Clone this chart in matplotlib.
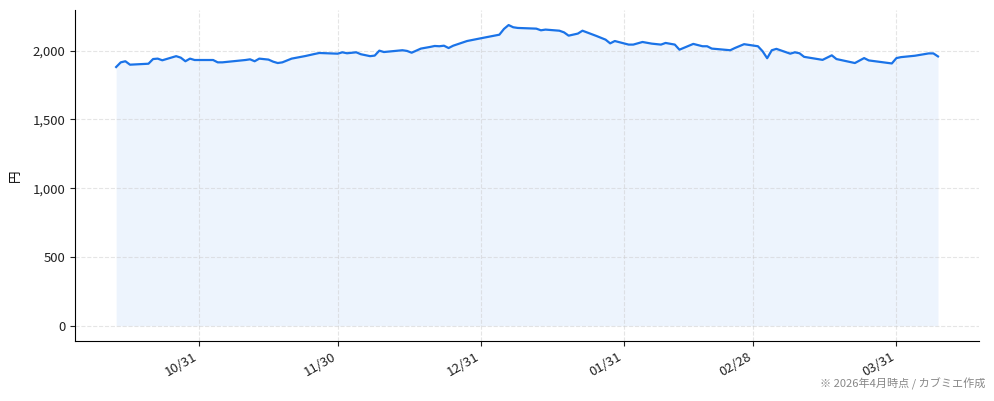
import pandas as pd
import matplotlib
matplotlib.use("Agg")
import matplotlib.pyplot as plt
import matplotlib.dates as mdates
from matplotlib.ticker import FuncFormatter

plt.rcParams["font.family"] = ["Noto Sans CJK JP", "DejaVu Sans"]

fechas = [
    "2025-10-13", "2025-10-14", "2025-10-15", "2025-10-16", "2025-10-20",
    "2025-10-21", "2025-10-22", "2025-10-23", "2025-10-26", "2025-10-27",
    "2025-10-28", "2025-10-29", "2025-10-30", "2025-11-03", "2025-11-04",
    "2025-11-05", "2025-11-10", "2025-11-11", "2025-11-12", "2025-11-13",
    "2025-11-15", "2025-11-16", "2025-11-17", "2025-11-18", "2025-11-20",
    "2025-11-23", "2025-11-25", "2025-11-26", "2025-11-30", "2025-12-01",
    "2025-12-02", "2025-12-04", "2025-12-05", "2025-12-07", "2025-12-08",
    "2025-12-09", "2025-12-10", "2025-12-14", "2025-12-15", "2025-12-16",
    "2025-12-18", "2025-12-20", "2025-12-21", "2025-12-22", "2025-12-23",
    "2025-12-24", "2025-12-25", "2025-12-28", "2025-12-31", "2026-01-04",
    "2026-01-05", "2026-01-06", "2026-01-07", "2026-01-08", "2026-01-12",
    "2026-01-13", "2026-01-14", "2026-01-17", "2026-01-18", "2026-01-19",
    "2026-01-21", "2026-01-22", "2026-01-25", "2026-01-27", "2026-01-28",
    "2026-01-29", "2026-02-01", "2026-02-02", "2026-02-04", "2026-02-06",
    "2026-02-08", "2026-02-09", "2026-02-11", "2026-02-12", "2026-02-15",
    "2026-02-17", "2026-02-18", "2026-02-19", "2026-02-23", "2026-02-24",
    "2026-02-26", "2026-03-01", "2026-03-02", "2026-03-03", "2026-03-04",
    "2026-03-05", "2026-03-08", "2026-03-09", "2026-03-10", "2026-03-11",
    "2026-03-15", "2026-03-17", "2026-03-18", "2026-03-22", "2026-03-24",
    "2026-03-25", "2026-03-30", "2026-03-31", "2026-04-01", "2026-04-04",
    "2026-04-07", "2026-04-08", "2026-04-09",
]

precios = [
    1881, 1915, 1923, 1898, 1905,
    1939, 1942, 1930, 1960, 1949,
    1923, 1942, 1932, 1932, 1915,
    1915, 1932, 1937, 1923, 1942,
    1935, 1920, 1910, 1915, 1942,
    1961, 1976, 1983, 1978, 1988,
    1981, 1988, 1974, 1960, 1964,
    2000, 1990, 2003, 1998, 1985,
    2015, 2027, 2034, 2032, 2036,
    2019, 2036, 2070, 2090, 2116,
    2158, 2186, 2170, 2165, 2160,
    2148, 2153, 2145, 2133, 2109,
    2124, 2145, 2107, 2080, 2053,
    2070, 2044, 2044, 2063, 2051,
    2044, 2056, 2044, 2007, 2049,
    2032, 2032, 2015, 2003, 2019,
    2047, 2032, 1996, 1945, 2003,
    2013, 1978, 1988, 1981, 1955,
    1933, 1966, 1939, 1910, 1946,
    1929, 1907, 1946, 1953, 1963,
    1980, 1980, 1958,
]

ticks_x = ["2025-10-31", "2025-11-30", "2025-12-31", "2026-01-31",
           "2026-02-28", "2026-03-31"]

COLOR = "#1a73e8"

df = pd.DataFrame({"fecha": pd.to_datetime(fechas), "precio": precios})

fig = plt.figure(figsize=(9.94, 4.01), dpi=100)
ax = fig.add_axes([0.0755, 0.150, 0.9095, 0.825])

ax.plot(df["fecha"], df["precio"], color=COLOR, linewidth=1.6)
ax.fill_between(df["fecha"], df["precio"], 0, color=COLOR, alpha=0.08,
                linewidth=0)

ax.set_xticks(pd.to_datetime(ticks_x))
ax.xaxis.set_major_formatter(mdates.DateFormatter("%m/%d"))
plt.setp(ax.get_xticklabels(), rotation=30, ha="right")
ax.set_yticks([0, 500, 1000, 1500, 2000])
ax.yaxis.set_major_formatter(FuncFormatter(lambda x, _: f"{x:,.0f}"))
ax.tick_params(labelsize=9.5, colors="#222222")
ax.set_ylabel("円", fontsize=9, labelpad=8)

ax.grid(True, linestyle="--", color="#cccccc", alpha=0.5, linewidth=0.8)
ax.spines["top"].set_visible(False)
ax.spines["right"].set_visible(False)

fig.text(0.991, 0.028, "※ 2026年4月時点 / カブミエ作成", ha="right",
         va="bottom", fontsize=8, color="#888888")

fig.savefig("out.png", dpi=100)
